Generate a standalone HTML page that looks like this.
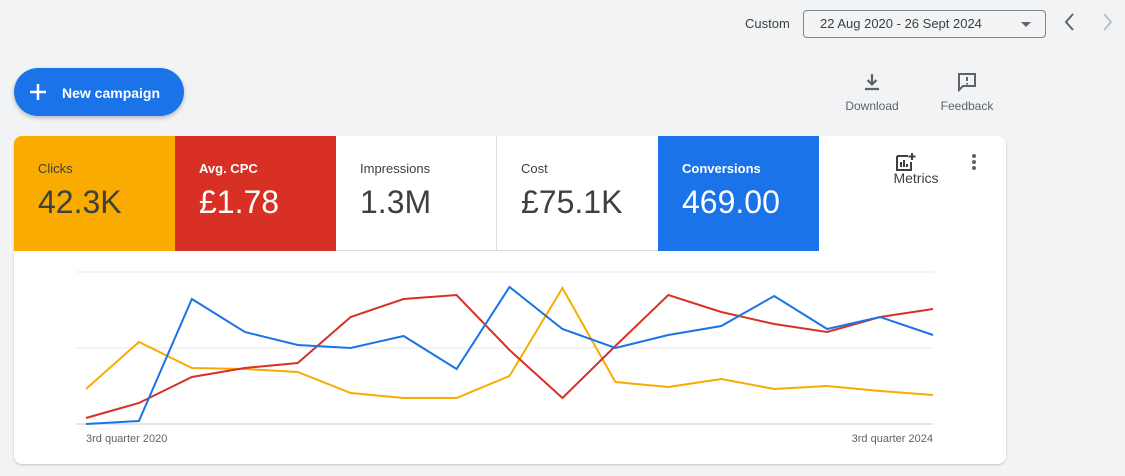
<!DOCTYPE html>
<html><head><meta charset="utf-8">
<style>
body{margin:0;width:1125px;height:476px;background:#f1f3f4;font-family:"Liberation Sans",Arial,sans-serif;position:relative;overflow:hidden;color:#3c4043}
.abs{position:absolute}
.tile{position:absolute;top:0;height:115px;width:161px;box-sizing:border-box}
.tl{position:absolute;left:24px;top:25px;font-size:13px}
.tv{position:absolute;left:24px;top:48px;font-size:32px}
</style></head><body>
<div class="abs" style="left:745px;top:16px;font-size:13px">Custom</div>
<div class="abs" style="left:803px;top:10px;width:241px;height:26px;border:1px solid #80868b;border-radius:4px;font-size:13px;line-height:26px;box-sizing:content-box"><span style="margin-left:16px">22 Aug 2020 - 26 Sept 2024</span><span style="position:absolute;right:14px;top:11px;border-left:5px solid transparent;border-right:5px solid transparent;border-top:5px solid #5f6368"></span></div>
<svg class="abs" style="left:1062px;top:12px" width="16" height="20"><path d="M11 2L4 10l7 8" stroke="#5f6368" stroke-width="2" fill="none"/></svg>
<svg class="abs" style="left:1099px;top:12px" width="16" height="20"><path d="M5 2l7 8-7 8" stroke="#bdc1c6" stroke-width="2" fill="none"/></svg>
<div class="abs" style="left:14px;top:68px;width:170px;height:48px;border-radius:24px;background:#1a73e8;color:#fff;box-shadow:0 2px 4px rgba(0,0,0,.25)"><svg style="position:absolute;left:14px;top:14px" width="20" height="20"><path d="M10 2v16M2 10h16" stroke="#fff" stroke-width="2.5"/></svg><span style="position:absolute;left:48px;top:17px;font-size:14px;font-weight:bold">New campaign</span></div>
<div class="abs" style="left:840px;top:72px;width:64px;text-align:center;font-size:12px;color:#5f6368"><svg width="20" height="20" viewBox="0 0 20 20"><path d="M10 2v10M5.5 8l4.5 4.5 4.5-4.5M3 17h14" stroke="#5f6368" stroke-width="2.2" fill="none"/></svg><div style="margin-top:4px">Download</div></div>
<div class="abs" style="left:935px;top:72px;width:64px;text-align:center;font-size:12px;color:#5f6368"><svg width="22" height="20" viewBox="0 0 22 20"><path d="M3 2h16v12H7l-4 4z" stroke="#5f6368" stroke-width="2" fill="none"/><path d="M11 5v4M11 11v1.5" stroke="#5f6368" stroke-width="2"/></svg><div style="margin-top:4px">Feedback</div></div>
<div class="abs" style="left:14px;top:136px;width:992px;height:328px;background:#fff;border-radius:8px;box-shadow:0 1px 2px rgba(0,0,0,.2);overflow:hidden">
<div class="tile" style="left:0;background:#f9ab00;color:#3c4043"><div class="tl">Clicks</div><div class="tv">42.3K</div></div>
<div class="tile" style="left:161px;background:#d93025;color:#fff"><div class="tl" style="font-weight:bold">Avg. CPC</div><div class="tv">£1.78</div></div>
<div class="tile" style="left:322px;border-right:1px solid #dadce0;border-bottom:1px solid #dadce0"><div class="tl">Impressions</div><div class="tv">1.3M</div></div>
<div class="tile" style="left:483px;border-bottom:1px solid #dadce0"><div class="tl">Cost</div><div class="tv">£75.1K</div></div>
<div class="tile" style="left:644px;background:#1a73e8;color:#fff"><div class="tl" style="font-weight:bold">Conversions</div><div class="tv">469.00</div></div>
<div class="abs" style="left:872px;top:16px;width:60px;text-align:center;font-size:14px"><svg width="22" height="20" viewBox="0 0 22 20" style="display:block;margin:0 0 -2px 9px"><path d="M2 4h11M2 4v14h14V10" stroke="#3c4043" stroke-width="2" fill="none"/><path d="M6 15V10M9 15V8M12 15v-3M17 1v7M13.5 4.5h7" stroke="#3c4043" stroke-width="2"/></svg>Metrics</div>
<div class="abs" style="left:958px;top:18px;width:6px"><div style="width:4px;height:4px;border-radius:2px;background:#5f6368;margin-bottom:2px"></div><div style="width:4px;height:4px;border-radius:2px;background:#5f6368;margin-bottom:2px"></div><div style="width:4px;height:4px;border-radius:2px;background:#5f6368"></div></div>
</div>
<svg class="abs" id="chart" style="left:0;top:0" width="1125" height="476"></svg>
<script>
const categories=["Q3 2020","Q4 2020","Q1 2021","Q2 2021","Q3 2021","Q4 2021","Q1 2022","Q2 2022","Q3 2022","Q4 2022","Q1 2023","Q2 2023","Q3 2023","Q4 2023","Q1 2024","Q2 2024","Q3 2024"];
const conversions=[0,3,125,92,79,76,88,55,137,95,76,89,98,128,95,107,89];
const avgCpc=[6,21,47,56,61,107,125,129,74,26,78,129,112,100,92,107,115];
const clicks=[35,82,56,55,52,31,26,26,48,136,42,37,45,35,38,33,29];
const gridValues=[0,76,152];
const xLabels=["3rd quarter 2020","3rd quarter 2024"];
const svg=document.getElementById('chart');
const NS='http://www.w3.org/2000/svg';
const x0=86,x1=933,y0=424,y1=272,vmax=152;
function xs(i){return x0+(x1-x0)*i/(categories.length-1);}
function ys(v){return y0-(y0-y1)*v/vmax;}
gridValues.forEach(g=>{
 const l=document.createElementNS(NS,'line');
 
 
 l.setAttribute('x1',76);l.setAttribute('x2',933);l.setAttribute('y1',ys(g));l.setAttribute('y2',ys(g));
 l.setAttribute('stroke',g===0?'#dadce0':'#e8eaed');l.setAttribute('stroke-width',g===0?1.5:1);
 svg.appendChild(l);
});
[[xLabels[0],86,'start'],[xLabels[1],933,'end']].forEach(([t,x,a])=>{
 const e=document.createElementNS(NS,'text');
 
 
 e.setAttribute('x',x);e.setAttribute('y',442);e.setAttribute('text-anchor',a);
 e.setAttribute('font-size','11');e.setAttribute('fill','#5f6368');e.setAttribute('font-family','Liberation Sans, sans-serif');
 e.textContent=t;svg.appendChild(e);
});
[[clicks,'#f9ab00','clicks-line'],[avgCpc,'#d93025','avg-cpc-line'],[conversions,'#1a73e8','conversions-line']].forEach(([d,c,n])=>{
 const p=document.createElementNS(NS,'polyline');
 
 
 p.setAttribute('points',d.map((v,i)=>xs(i)+','+ys(v)).join(' '));
 p.setAttribute('fill','none');p.setAttribute('stroke',c);p.setAttribute('stroke-width',2);
 svg.appendChild(p);
});
</script>
</body></html>
